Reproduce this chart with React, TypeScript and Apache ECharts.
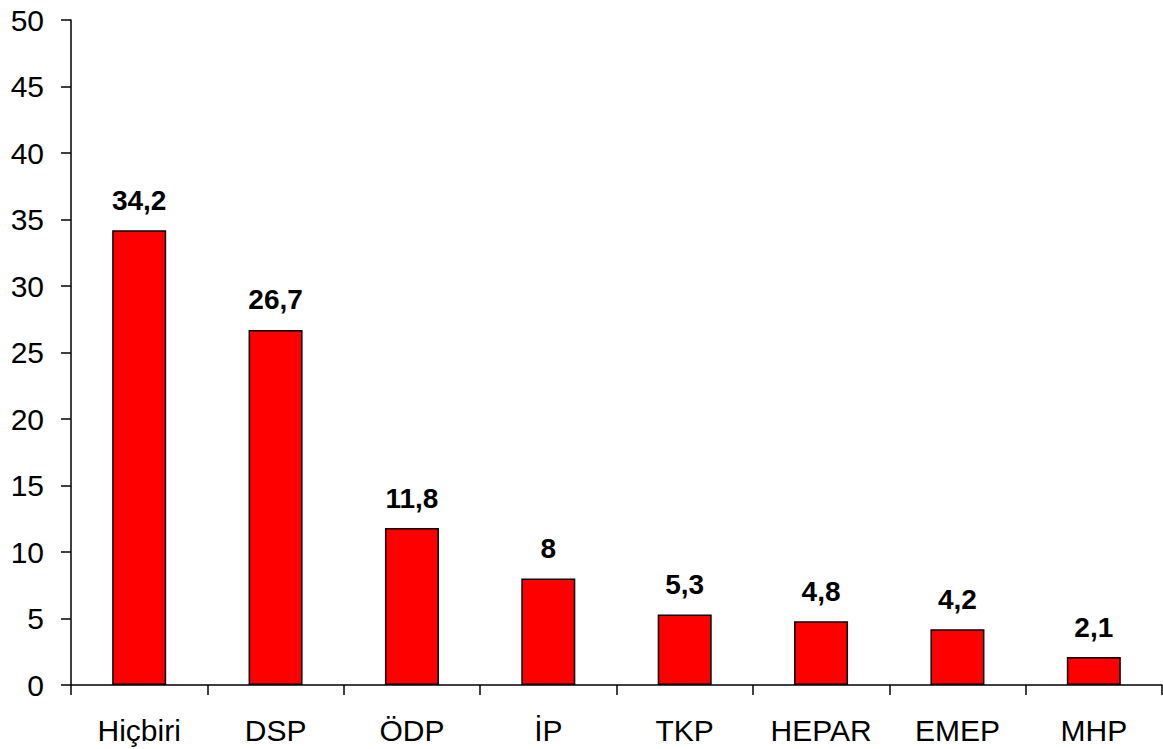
import React, { useEffect, useRef } from "react";
import * as echarts from "echarts";

const categories = ["Hiçbiri", "DSP", "ÖDP", "İP", "TKP", "HEPAR", "EMEP", "MHP"];
const values = [34.2, 26.7, 11.8, 8, 5.3, 4.8, 4.2, 2.1];
const labels = ["34,2", "26,7", "11,8", "8", "5,3", "4,8", "4,2", "2,1"];

const FONT = "Arial, 'Liberation Sans', sans-serif";

export default function App() {
  const ref = useRef<HTMLDivElement>(null);
  useEffect(() => {
    document.body.style.margin = "0";
    const chart = echarts.init(ref.current!, null, { renderer: "svg" });
    chart.setOption({
      animation: false,
      backgroundColor: "#ffffff",
      grid: { left: 71, right: 1, top: 20, bottom: 64, containLabel: false },
      xAxis: {
        type: "category",
        data: categories,
        axisLine: { lineStyle: { color: "#000", width: 1.5 } },
        axisTick: { show: true, length: 10, lineStyle: { color: "#000", width: 1.5 } },
        axisLabel: { color: "#000", fontSize: 30, fontFamily: FONT, margin: 30, interval: 0 },
      },
      yAxis: {
        type: "value",
        min: 0,
        max: 50,
        interval: 5,
        splitLine: { show: false },
        axisLine: { show: true, lineStyle: { color: "#000", width: 1.5 } },
        axisTick: { show: true, length: 10, lineStyle: { color: "#000", width: 1.5 } },
        axisLabel: { color: "#000", fontSize: 30, fontFamily: FONT, margin: 27 },
      },
      series: [
        {
          type: "bar",
          data: values,
          barWidth: 54,
          itemStyle: { color: "#ff0000", borderColor: "#000", borderWidth: 1.5 },
          label: {
            show: true,
            position: "top",
            distance: 16,
            color: "#000",
            fontSize: 28,
            fontWeight: "bold",
            fontFamily: FONT,
            formatter: (p: any) => labels[p.dataIndex],
          },
        },
      ],
    });
    return () => chart.dispose();
  }, []);
  return <div ref={ref} style={{ width: 1163, height: 749 }} />;
}
